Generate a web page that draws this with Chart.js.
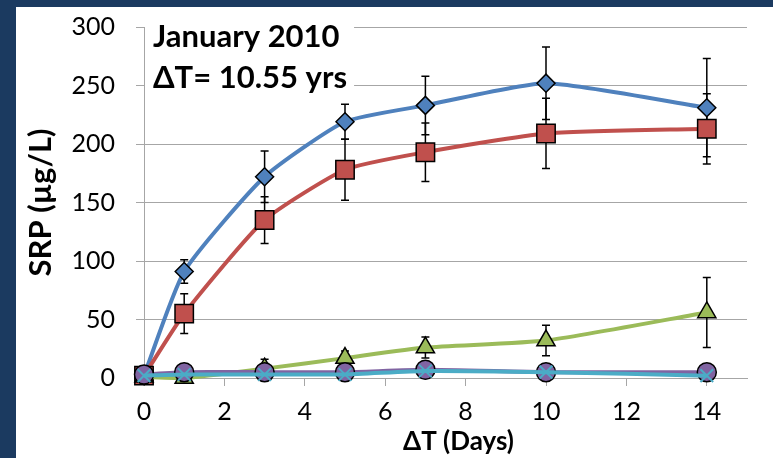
<!DOCTYPE html>
<html>
<head>
<meta charset="utf-8">
<script src="https://cdn.jsdelivr.net/npm/chart.js@4.4.0/dist/chart.umd.min.js"></script>
<style>
    html, body { margin: 0; padding: 0; width: 773px; height: 458px; overflow: hidden; background: #1b3a60; }
    #wrap { position: absolute; left: 16px; top: 7px; width: 757px; height: 451px; background: #fff; }
</style>
</head>
<body>
<div id="wrap"><canvas id="chart"></canvas></div>
<script>
// Dane
const days = [0, 1, 3, 5, 7, 10, 14];
const xTickValues = [0, 2, 4, 6, 8, 10, 12, 14];

const blueValues = [2, 91, 172, 219, 233, 252, 231];
const blueErrors = [0, 10, 22, 15, 25, 31, 42];
const redValues = [2, 55, 135, 178, 193, 209, 213];
const redErrors = [0, 17, 20, 26, 25, 30, 30];
const greenValues = [1, 0, 8, 17, 26, 32, 56];
const greenErrors = [0, 2, 8, 6, 9, 13, 30];
const purpleValues = [3, 5, 5, 5, 7, 5, 5];
const cyanValues = [2, 3, 3, 3, 6, 5, 2];

const titleLines = ['January 2010', 'ΔT= 10.55 yrs'];
const xTitle = 'ΔT (Days)';

const FONT = 'Lato, Carlito, Calibri, sans-serif';

function toPoints(values) {
    return days.map((d, i) => ({ x: d, y: values[i] }));
}

// Słupki błędów + podpisy
const overlayPlugin = {
    id: 'overlay',
    beforeDatasetsDraw(chart) {
        const ctx = chart.ctx;
        const area = chart.chartArea;

        // podpis z białym tłem
        ctx.save();
        ctx.font = `bold 31px ${FONT}`;
        const textX = area.left + 9;
        const w = Math.max(...titleLines.map(t => ctx.measureText(t).width));
        ctx.fillStyle = '#fff';
        ctx.fillRect(area.left + 1, area.top - 7, textX - area.left + w + 6, 75);
        ctx.fillStyle = '#000';
        ctx.textBaseline = 'alphabetic';
        ctx.fillText(titleLines[0], textX, area.top + 20);
        ctx.fillText(titleLines[1], textX, area.top + 61);

        // tytuł osi X (w oryginale lekko przesunięty w prawo)
        ctx.font = `bold 26px ${FONT}`;
        ctx.textAlign = 'center';
        ctx.textBaseline = 'middle';
        ctx.fillText(xTitle, (area.left + area.right) / 2 + 13, chart.height - 16);
        ctx.restore();

        // słupki błędów
        ctx.save();
        ctx.strokeStyle = '#000';
        ctx.lineWidth = 1.5;
        chart.data.datasets.forEach((ds) => {
            if (!ds.errors) return;
            const xs = chart.scales.x;
            const ys = chart.scales.y;
            ds.data.forEach((p, i) => {
                const e = ds.errors[i];
                if (!e) return;
                const px = xs.getPixelForValue(p.x);
                const top = ys.getPixelForValue(p.y + e);
                const bottom = ys.getPixelForValue(Math.max(0, p.y - e));
                ctx.beginPath();
                ctx.moveTo(px, top);
                ctx.lineTo(px, bottom);
                ctx.moveTo(px - 4, top);
                ctx.lineTo(px + 4, top);
                ctx.moveTo(px - 4, bottom);
                ctx.lineTo(px + 4, bottom);
                ctx.stroke();
            });
        });
        ctx.restore();
    },
};

function makeDataset(values, color, style, radius, order, errors) {
    return {
        data: toPoints(values),
        errors: errors,
        borderColor: color,
        borderWidth: 4,
        tension: 0.18,
        pointStyle: style,
        pointRadius: radius,
        pointBackgroundColor: color,
        pointBorderColor: style === 'crossRot' ? color : '#000',
        pointBorderWidth: style === 'crossRot' ? 2 : 1.5,
        order: order,
        clip: false,
    };
}

const ctx = document.getElementById('chart').getContext('2d');
new Chart(ctx, {
    type: 'line',
    data: {
        datasets: [
            makeDataset(blueValues, '#4f81bd', 'rectRot', 9, 5, blueErrors),
            makeDataset(redValues, '#c0504d', 'rect', 13, 4, redErrors),
            makeDataset(greenValues, '#9bbb59', 'triangle', 10.5, 3, greenErrors),
            makeDataset(purpleValues, '#8064a2', 'circle', 9.5, 2, null),
            makeDataset(cyanValues, '#4bacc6', 'crossRot', 9, 1, null),
        ],
    },
    options: {
        responsive: true,
        maintainAspectRatio: false,
        animation: false,
        devicePixelRatio: 1,
        layout: { autoPadding: false, padding: { top: 20, right: 26, left: 0, bottom: 0 } },
        plugins: {
            legend: { display: false },
            tooltip: { enabled: false },
        },
        scales: {
            x: {
                type: 'linear',
                min: 0,
                max: 15,
                afterBuildTicks: (scale) => {
                    scale.ticks = xTickValues.map(v => ({ value: v }));
                },
                afterFit: (scale) => {
                    scale.height = 80;
                    scale.paddingLeft = 0;
                    scale.paddingRight = 0;
                },
                grid: { drawOnChartArea: false, drawTicks: true, tickLength: 8, color: '#a6a6a6' },
                border: { color: '#a6a6a6', width: 1 },
                ticks: { font: { family: FONT, size: 25 }, color: '#000', padding: 11, maxRotation: 0 },
            },
            y: {
                min: 0,
                max: 300,
                afterFit: (scale) => {
                    scale.width = 128;
                    scale.paddingTop = 0;
                    scale.paddingBottom = 0;
                },
                grid: { color: '#a6a6a6', tickLength: 8 },
                border: { color: '#a6a6a6', width: 1 },
                ticks: { stepSize: 50, font: { family: FONT, size: 25 }, color: '#000', padding: 21 },
                title: {
                    display: true,
                    text: 'SRP (µg/L)',
                    color: '#000',
                    font: { family: FONT, size: 31, weight: 'bold' },
                    padding: { top: 6, bottom: 0 },
                },
            },
        },
    },
    plugins: [overlayPlugin],
});
</script>
</body>
</html>
